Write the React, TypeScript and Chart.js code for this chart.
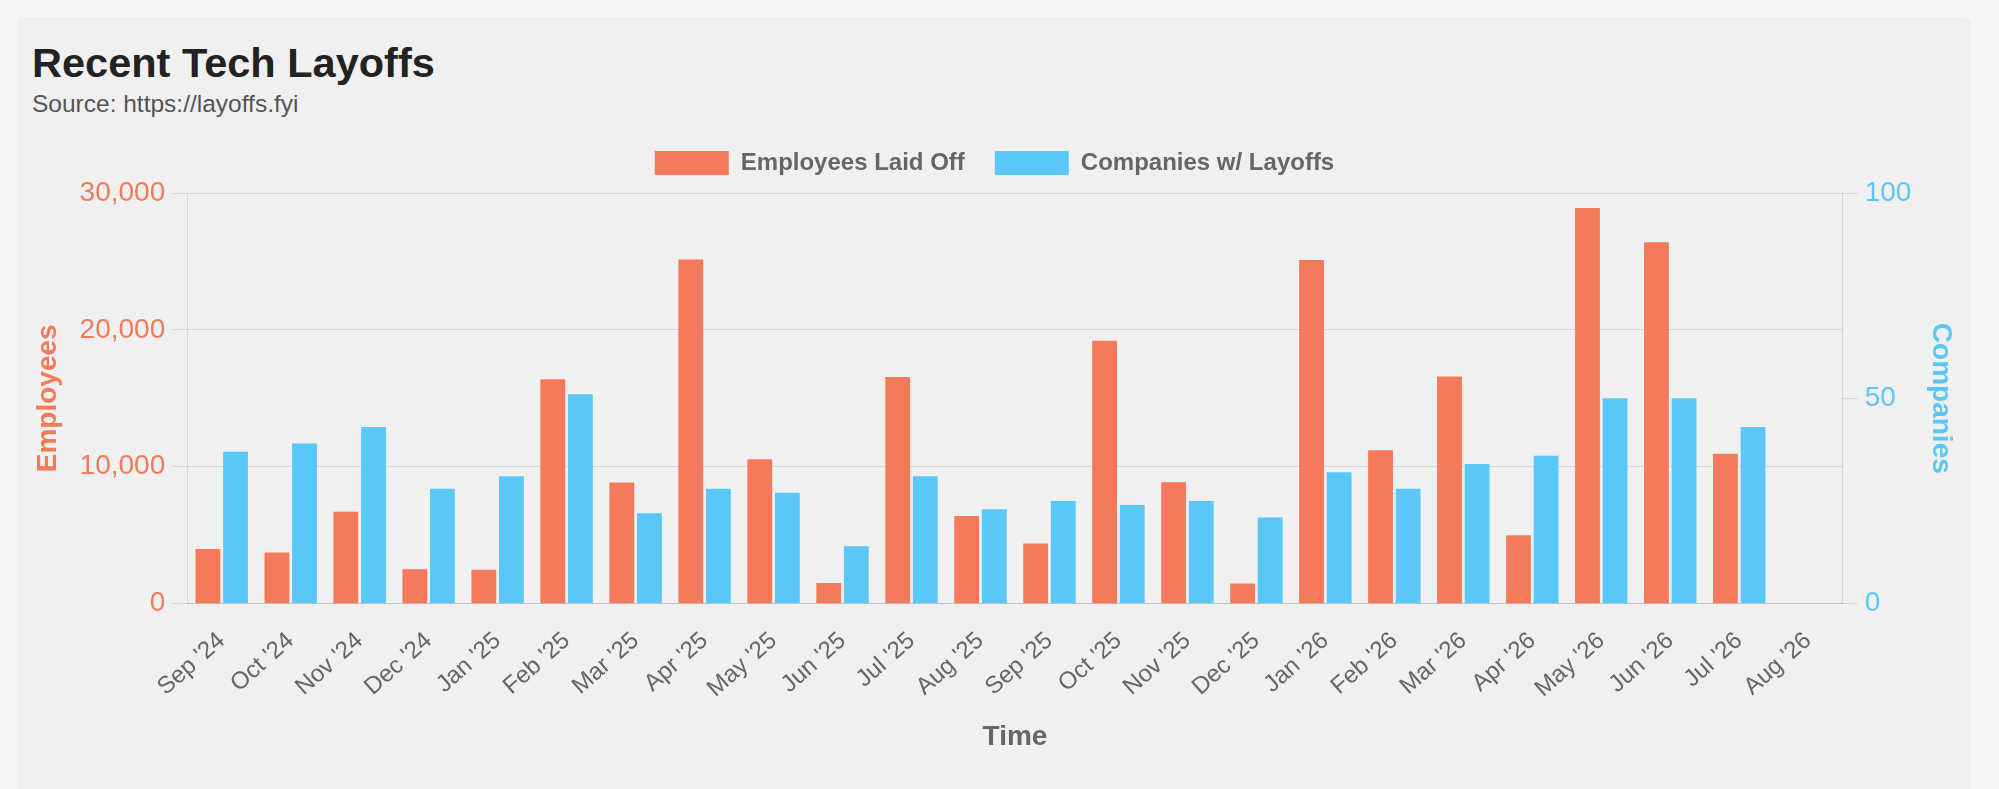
import React, { useEffect, useRef } from "react";
import { Chart, registerables } from "chart.js";

Chart.register(...registerables);

const months = [
  "Sep '24", "Oct '24", "Nov '24", "Dec '24", "Jan '25", "Feb '25", "Mar '25", "Apr '25",
  "May '25", "Jun '25", "Jul '25", "Aug '25", "Sep '25", "Oct '25", "Nov '25", "Dec '25",
  "Jan '26", "Feb '26", "Mar '26", "Apr '26", "May '26", "Jun '26", "Jul '26", "Aug '26",
];

const employeesLaidOff = [
  4000, 3740, 6720, 2520, 2470, 16400, 8850, 25150, 10550, 1500, 16550, 6400,
  4400, 19200, 8870, 1470, 25100, 11200, 16600, 5000, 28900, 26400, 10950, null,
];

const companiesWithLayoffs = [
  37, 39, 43, 28, 31, 51, 22, 28, 27, 14, 31, 23,
  25, 24, 25, 21, 32, 28, 34, 36, 50, 50, 43, null,
];

const ORANGE = "#f47a5b";
const BLUE = "#5ac8f6";
const GREY = "#666";
const FONT = "'Liberation Sans', Arial, Helvetica, sans-serif";

// pushes the plot down a little below the legend
const legendGap = {
  id: "legendGap",
  beforeInit(chart: any) {
    const fit = chart.legend.fit;
    chart.legend.fit = function () {
      fit.bind(chart.legend)();
      this.height += 8;
    };
  },
};

const LayoffsChart: React.FC = () => {
  const canvasRef = useRef<HTMLCanvasElement | null>(null);

  useEffect(() => {
    const canvas = canvasRef.current;
    if (!canvas) return;
    Chart.defaults.font.family = FONT;

    const chart = new Chart(canvas, {
      type: "bar",
      data: {
        labels: months,
        datasets: [
          {
            label: "Employees Laid Off",
            data: employeesLaidOff,
            backgroundColor: ORANGE,
            yAxisID: "y",
          },
          {
            label: "Companies w/ Layoffs",
            data: companiesWithLayoffs,
            backgroundColor: BLUE,
            yAxisID: "y1",
          },
        ],
      },
      options: {
        responsive: false,
        animation: false,
        layout: { padding: { top: 121, left: 27, right: 37, bottom: 31 } },
        plugins: {
          legend: {
            labels: {
              boxWidth: 74,
              boxHeight: 24,
              padding: 30,
              color: GREY,
              font: { size: 24, weight: "bold" },
            },
          },
          tooltip: { enabled: false },
        },
        scales: {
          x: {
            grid: { display: false },
            ticks: {
              color: GREY,
              font: { size: 24 },
              minRotation: 41.5,
              maxRotation: 41.5,
              autoSkip: false,
              padding: 15,
            },
            title: {
              display: true,
              text: "Time",
              color: GREY,
              font: { size: 28, weight: "bold" },
              padding: { top: 2, bottom: 4 },
            },
          },
          y: {
            position: "left",
            min: 0,
            max: 30000,
            grid: { tickLength: 15 },
            ticks: {
              stepSize: 10000,
              color: ORANGE,
              font: { size: 28 },
              padding: 7,
              callback: (v: any) => Number(v).toLocaleString("en-US"),
            },
            title: {
              display: true,
              text: "Employees",
              color: ORANGE,
              font: { size: 28, weight: "bold" },
              padding: { top: 4, bottom: 8 },
            },
          },
          y1: {
            position: "right",
            min: 0,
            max: 100,
            grid: { drawOnChartArea: false, tickLength: 15 },
            ticks: {
              stepSize: 50,
              color: BLUE,
              font: { size: 28 },
              padding: 7,
            },
            title: {
              display: true,
              text: "Companies",
              color: BLUE,
              font: { size: 28, weight: "bold" },
              padding: { top: 4, bottom: 6 },
            },
          },
        },
      },
      plugins: [legendGap],
    });

    return () => {
      chart.destroy();
    };
  }, []);

  return <canvas ref={canvasRef} width={1999} height={789} style={{ position: "absolute", left: 0, top: 0 }} />;
};

export default function App() {
  return (
    <div style={{ position: "fixed", inset: 0, background: "#f6f6f6", fontFamily: FONT, overflow: "hidden" }}>
      <div
        style={{
          position: "absolute",
          left: 17,
          top: 17,
          width: 1954,
          height: 780,
          background: "#f0f0f0",
          borderRadius: 6,
        }}
      />
      <div
        style={{
          position: "absolute",
          left: 32,
          top: 42,
          fontSize: 41.5,
          lineHeight: 1,
          fontWeight: "bold",
          color: "#222",
          whiteSpace: "nowrap",
        }}
      >
        Recent Tech Layoffs
      </div>
      <div
        style={{
          position: "absolute",
          left: 32,
          top: 92,
          fontSize: 24.5,
          lineHeight: 1,
          color: "#555",
          whiteSpace: "nowrap",
        }}
      >
        Source: https://layoffs.fyi
      </div>
      <LayoffsChart />
    </div>
  );
}
